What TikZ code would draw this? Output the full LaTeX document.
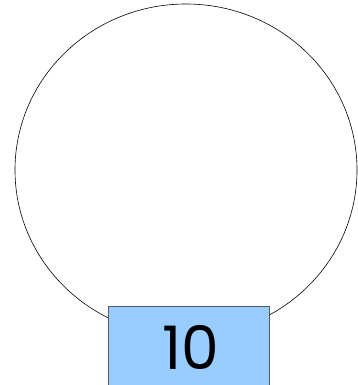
\documentclass[tikz,border=0pt]{standalone}
\usepackage{fontspec}
\setmainfont{Poppins}
\definecolor{cellblue}{HTML}{99CCFF}
\definecolor{celledge}{HTML}{555A60}

\begin{document}
\begin{tikzpicture}[x=1pt,y=-1pt]
    \useasboundingbox (0,0) rectangle (358,385);
    \clip (0,0) rectangle (358,385);

    % Loop around the value
    \draw[line width=0.6pt] (186,170) ellipse (171 and 166);

    % Value box
    \node[draw=celledge, fill=cellblue, minimum width=161pt, minimum height=84pt, inner sep=0pt, anchor=north west] (val) at (108,306) {};
    \node[font=\fontsize{60}{60}\selectfont, inner sep=0pt] (num) at (191,347) {10};
\end{tikzpicture}
\end{document}
